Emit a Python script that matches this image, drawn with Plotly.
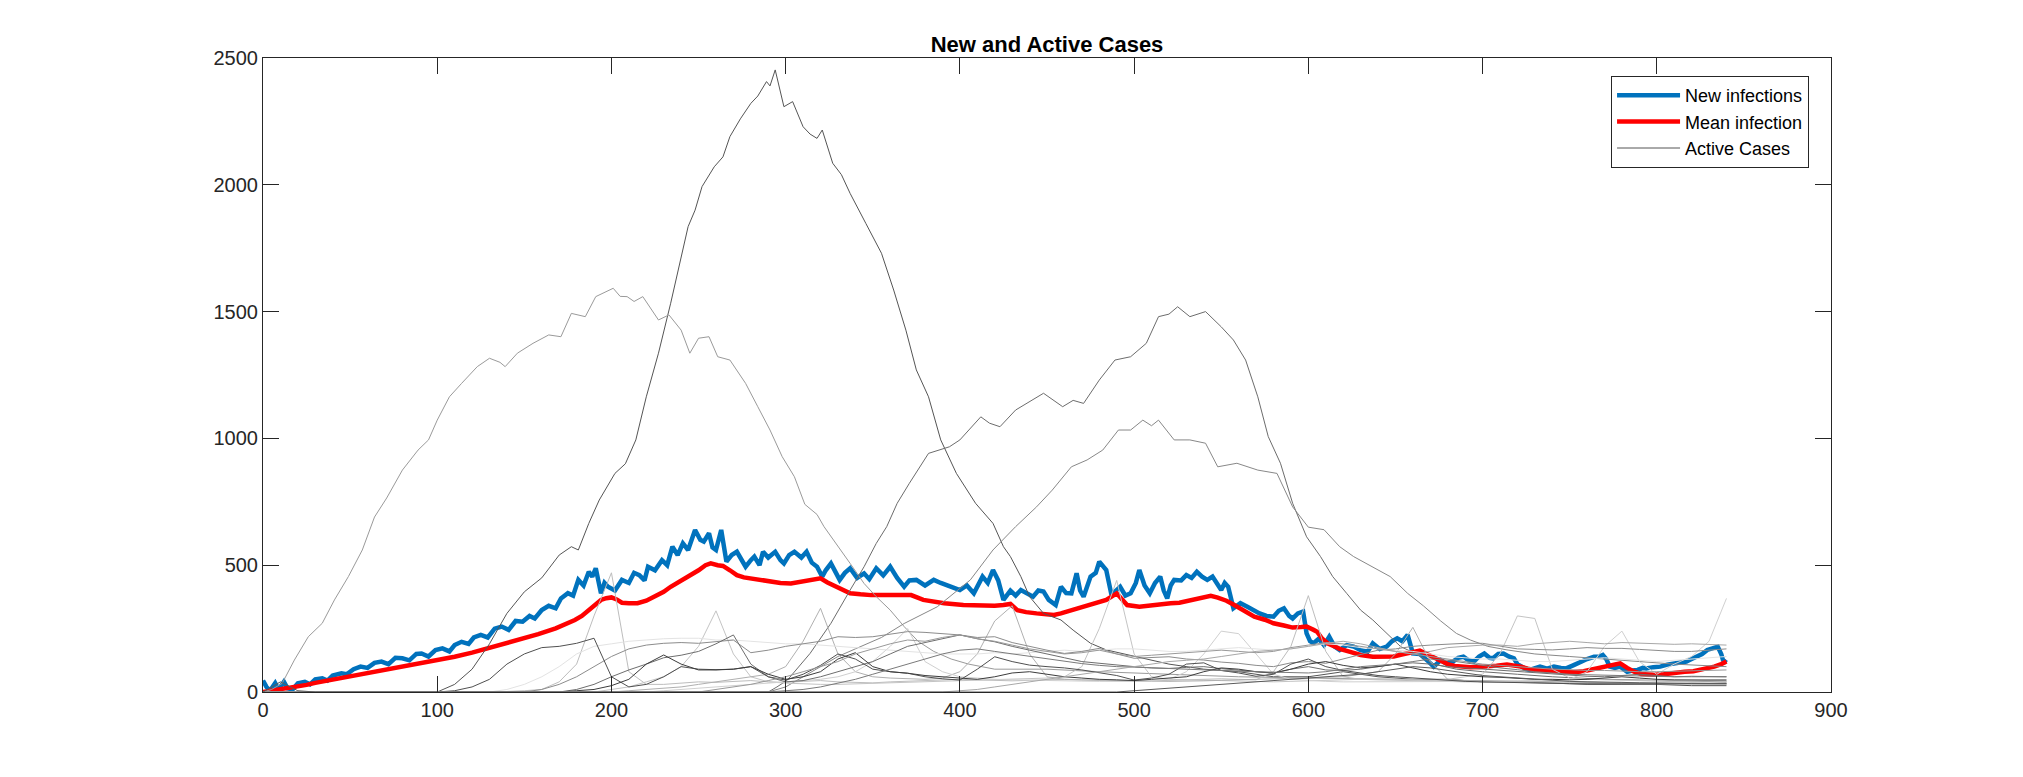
import plotly.graph_objects as go

# New infections (blue) - day / value pairs
NEW_DAY = [0, 2, 4, 7, 9, 12, 14, 17, 20, 24, 27, 30, 34, 37, 40, 45, 48, 52, 56, 60,
           64, 68, 72, 76, 80, 84, 88, 91, 95, 99, 103, 107, 110, 114, 118, 121, 125, 129, 133, 137,
           141, 145, 149, 153, 156, 160, 164, 168, 171, 175, 178, 181, 184, 187, 189, 191, 194, 196, 198, 202,
           206, 210, 213, 216, 219, 221, 225, 229, 232, 235, 238, 241, 244, 248, 251, 253, 256, 258, 260, 263,
           266, 269, 272, 275, 277, 280, 282, 285, 287, 290, 294, 297, 299, 302, 305, 309, 312, 315, 318, 321,
           323, 326, 329, 331, 334, 337, 341, 345, 348, 352, 356, 360, 364, 368, 371, 375, 380, 385, 389, 393,
           397, 400, 404, 408, 413, 416, 419, 422, 425, 429, 432, 435, 439, 442, 445, 448, 451, 455, 458, 461,
           464, 467, 469, 471, 475, 478, 480, 482, 484, 487, 490, 492, 495, 498, 501, 503, 506, 509, 512, 515,
           517, 519, 521, 523, 527, 530, 533, 536, 539, 542, 545, 548, 550, 552, 554, 557, 561, 565, 569, 572,
           576, 580, 583, 586, 589, 591, 594, 597, 599, 601, 603, 606, 609, 612, 615, 618, 622, 626, 630, 634,
           637, 641, 645, 648, 651, 654, 657, 660, 664, 666, 669, 672, 674, 676, 679, 683, 686, 689, 692, 695,
           698, 701, 704, 706, 709, 712, 715, 718, 720, 722, 725, 727, 730, 733, 737, 741, 745, 748, 752, 756,
           760, 764, 767, 769, 771, 773, 776, 779, 781, 783, 786, 789, 792, 794, 798, 802, 806, 810, 814, 817,
           820, 823, 826, 829, 832, 835, 837, 838, 840]
NEW_VAL = [45, 20, 5, 35, 10, 40, 15, 10, 34, 40, 30, 50, 54, 45, 65, 74, 70, 90, 100, 95,
           115, 120, 110, 135, 133, 125, 150, 152, 140, 165, 172, 160, 185, 198, 190, 215, 225, 215, 250, 258,
           245, 280, 277, 300, 290, 323, 340, 330, 369, 390, 380, 442, 420, 474, 455, 488, 389, 430, 415, 400,
           442, 430, 470, 461, 440, 494, 480, 520, 500, 573, 540, 586, 560, 639, 600, 593, 626, 570, 560, 639,
           514, 540, 553, 520, 494, 520, 534, 500, 553, 530, 553, 520, 507, 540, 553, 530, 553, 510, 494, 455,
           480, 507, 470, 442, 470, 488, 450, 468, 445, 488, 460, 494, 450, 415, 440, 442, 420, 442, 430, 422,
           410, 402, 420, 389, 455, 430, 481, 440, 363, 400, 380, 402, 385, 376, 400, 396, 363, 343, 415, 390,
           389, 468, 400, 376, 455, 470, 514, 495, 481, 383, 400, 415, 380, 389, 430, 481, 420, 389, 430, 455,
           400, 369, 420, 442, 440, 461, 450, 474, 455, 442, 455, 420, 402, 430, 415, 330, 350, 336, 320, 310,
           300, 297, 320, 330, 300, 290, 310, 317, 231, 200, 192, 210, 185, 218, 180, 166, 185, 179, 165, 159,
           192, 170, 179, 200, 212, 200, 225, 152, 150, 139, 120, 100, 115, 126, 113, 120, 135, 139, 125, 120,
           140, 152, 135, 133, 150, 152, 140, 133, 110, 100, 90, 87, 95, 100, 92, 100, 95, 93, 105, 120,
           130, 139, 140, 146, 130, 100, 95, 100, 90, 80, 85, 87, 95, 93, 98, 100, 108, 113, 115, 120,
           130, 139, 150, 166, 172, 179, 150, 126, 115]

# Mean infection (red)
MEAN_DAY = [0, 5, 10, 15, 20, 25, 30, 34, 40, 45, 53, 60, 66, 72, 80, 86, 91, 100, 110, 120,
            129, 138, 148, 158, 168, 174, 179, 183, 187, 191, 194, 197, 200, 203, 206, 210, 215, 220, 225, 230,
            234, 240, 245, 250, 254, 257, 261, 264, 268, 272, 276, 280, 286, 291, 297, 303, 308, 314, 320, 324,
            329, 333, 337, 343, 349, 360, 372, 379, 385, 391, 402, 414, 420, 425, 429, 433, 438, 444, 450, 454,
            458, 463, 469, 476, 484, 490, 494, 496, 503, 509, 515, 521, 526, 532, 538, 544, 548, 553, 557, 561,
            565, 569, 575, 580, 586, 591, 596, 599, 603, 605, 608, 611, 615, 618, 624, 630, 637, 643, 649, 653,
            657, 661, 664, 668, 672, 676, 680, 684, 687, 693, 698, 703, 708, 714, 718, 722, 726, 729, 735, 741,
            747, 752, 758, 764, 770, 775, 779, 783, 787, 791, 798, 804, 810, 816, 821, 827, 833, 837, 840]
MEAN_VAL = [0, 5, 10, 14, 20, 28, 36, 41, 50, 58, 67, 77, 85, 93, 102, 110, 116, 128, 139, 155,
            172, 190, 208, 228, 251, 268, 284, 300, 323, 345, 363, 370, 373, 365, 352, 350, 350, 360, 376, 395,
            415, 438, 461, 480, 500, 507, 500, 497, 480, 461, 452, 448, 440, 435, 430, 428, 435, 442, 448, 432,
            415, 400, 389, 385, 382, 382, 382, 363, 355, 350, 343, 339, 340, 343, 347, 323, 315, 310, 306, 304,
            310, 320, 330, 345, 363, 389, 360, 343, 336, 342, 347, 350, 352, 360, 369, 379, 372, 360, 345, 330,
            312, 297, 285, 271, 262, 254, 256, 258, 245, 238, 210, 192, 180, 170, 158, 146, 139, 139, 140, 147,
            154, 162, 163, 150, 135, 122, 110, 103, 100, 98, 99, 100, 104, 108, 106, 100, 92, 88, 86, 83,
            80, 78, 82, 92, 102, 110, 113, 95, 80, 71, 68, 70, 76, 80, 82, 90, 100, 110, 120]

# Active cases, the four large waves (irregular sampling)
WAVE_A_DAY = [0, 100, 110, 120, 130, 140, 150, 160, 170, 177, 181, 187, 193, 202, 208, 214, 220, 227, 234, 239,
              244, 248, 252, 259, 264, 268, 274, 280, 284, 289, 291, 294, 299, 304, 310, 314, 318, 321, 327, 332,
              337, 346, 355, 362, 369, 375, 382, 389, 398, 409, 419, 425, 429, 435, 440, 448, 458, 465, 475, 484,
              500, 520, 540, 560, 580, 600, 620, 640, 660, 680, 700, 720, 740, 760, 780, 800, 820, 840]
WAVE_A_VAL = [0, 0, 30, 90, 190, 310, 395, 450, 540, 573, 560, 665, 757, 862, 900, 994, 1164, 1336, 1533, 1690,
              1835, 1900, 1993, 2071, 2110, 2190, 2260, 2321, 2350, 2407, 2390, 2453, 2308, 2328, 2229, 2200, 2183, 2216, 2085, 2040,
              1966, 1848, 1730, 1585, 1427, 1270, 1164, 994, 862, 744, 665, 573, 534, 455, 376, 310, 284, 244, 192, 166,
              140, 110, 90, 80, 60, 60, 80, 60, 50, 50, 40, 40, 35, 30, 30, 30, 25, 25]

WAVE_B_DAY = [0, 5, 11, 18, 26, 34, 41, 49, 57, 64, 71, 80, 89, 95, 100, 107, 114, 123, 130, 136,
              139, 146, 155, 164, 171, 177, 185, 191, 201, 205, 209, 213, 218, 227, 233, 240, 245, 250, 256, 261,
              268, 277, 284, 291, 298, 305, 311, 318, 322, 329, 337, 345, 352, 360, 368, 376, 385, 395, 405, 420,
              450, 480, 520, 560, 600, 650, 700, 750, 800, 840]
WAVE_B_VAL = [0, 10, 34, 126, 218, 271, 363, 455, 560, 690, 765, 875, 954, 994, 1072, 1164, 1217, 1283, 1316, 1300,
              1283, 1336, 1375, 1408, 1401, 1493, 1480, 1559, 1592, 1560, 1559, 1540, 1559, 1467, 1487, 1427, 1336, 1395, 1401, 1322,
              1309, 1217, 1125, 1033, 928, 849, 740, 700, 652, 586, 507, 428, 376, 323, 258, 200, 160, 130, 110, 90,
              90, 80, 70, 60, 55, 50, 45, 40, 35, 30]

WAVE_C_DAY = [0, 290, 295, 301, 314, 326, 337, 345, 352, 358, 364, 371, 382, 394, 400, 412, 417, 423, 432, 441,
              448, 459, 465, 471, 480, 489, 498, 507, 514, 520, 525, 532, 541, 550, 557, 564, 571, 577, 584, 591,
              599, 607, 614, 622, 630, 637, 645, 653, 662, 672, 685, 700, 720, 740, 770, 800, 840]
WAVE_C_VAL = [0, 0, 20, 47, 152, 271, 402, 494, 586, 652, 744, 823, 941, 967, 994, 1085, 1060, 1046, 1112, 1151,
              1178, 1125, 1150, 1138, 1230, 1309, 1322, 1375, 1480, 1490, 1519, 1480, 1500, 1440, 1388, 1309, 1164, 1007, 902, 744,
              612, 534, 455, 389, 323, 284, 231, 179, 150, 110, 90, 80, 70, 60, 50, 45, 40]

WAVE_D_DAY = [0, 290, 300, 310, 320, 330, 340, 355, 368, 387, 406, 419, 432, 444, 453, 464, 473, 482, 491, 498,
              505, 510, 514, 523, 532, 541, 548, 559, 571, 582, 591, 600, 609, 618, 626, 637, 647, 657, 666, 676,
              685, 693, 703, 714, 730, 750, 770, 790, 810, 840]
WAVE_D_VAL = [0, 0, 20, 60, 100, 140, 170, 215, 270, 336, 442, 560, 652, 730, 796, 888, 915, 954, 1033, 1033,
              1072, 1050, 1072, 994, 994, 981, 888, 902, 875, 862, 730, 650, 640, 573, 534, 494, 455, 389, 340, 280,
              231, 205, 180, 166, 150, 140, 130, 120, 110, 100]

# Active cases, smaller regions on a 10-day grid (day 0 ... 840)
GRID_DAYS = list(range(0, 850, 10))

LOW_1 = [0, 0, 0, 0, 0, 0, 0, 0, 0, 0,
         0, 0, 0, 0, 2, 5, 10, 40, 110, 300,
         470, 80, 30, 30, 35, 40, 38, 42, 45, 40,
         38, 42, 45, 40, 38, 36, 40, 42, 45, 48,
         50, 48, 45, 44, 46, 48, 50, 47, 45, 44,
         42, 44, 46, 48, 50, 52, 50, 48, 80, 180,
         380, 160, 60, 50, 48, 46, 44, 42, 40, 40,
         40, 38, 40, 42, 44, 42, 40, 38, 36, 38,
         40, 42, 44, 46, 48]
LOW_2 = [0, 0, 0, 0, 0, 0, 0, 0, 0, 0,
         0, 0, 0, 0, 0, 0, 0, 0, 0, 0,
         10, 20, 40, 60, 100, 180, 320, 150, 60, 40,
         35, 32, 30, 30, 32, 34, 36, 38, 40, 42,
         44, 46, 48, 50, 52, 55, 60, 100, 250, 440,
         150, 60, 50, 48, 46, 44, 42, 40, 40, 42,
         44, 46, 48, 50, 52, 50, 48, 46, 50, 60,
         70, 150, 300, 290, 90, 55, 50, 48, 46, 46,
         45, 44, 43, 42, 42]
LOW_3 = [0, 0, 0, 0, 0, 0, 0, 0, 0, 0,
         0, 0, 0, 0, 0, 0, 0, 0, 0, 0,
         0, 5, 10, 15, 20, 30, 40, 50, 60, 70,
         100, 200, 330, 150, 80, 60, 55, 52, 50, 55,
         80, 150, 280, 340, 150, 60, 50, 48, 46, 45,
         44, 43, 42, 42, 44, 46, 48, 50, 52, 54,
         56, 58, 60, 70, 80, 150, 255, 120, 50, 45,
         42, 40, 38, 36, 35, 34, 34, 33, 33, 32,
         32, 31, 31, 30, 30]
LOW_4 = [0, 0, 0, 0, 0, 0, 0, 0, 0, 0,
         0, 0, 0, 0, 0, 0, 0, 0, 0, 0,
         0, 0, 0, 5, 10, 15, 20, 25, 30, 35,
         40, 45, 50, 60, 80, 120, 180, 250, 120, 80,
         60, 55, 50, 48, 46, 45, 44, 43, 42, 42,
         42, 45, 50, 80, 150, 240, 230, 150, 70, 50,
         45, 42, 40, 40, 40, 40, 40, 40, 40, 40,
         40, 42, 44, 46, 48, 50, 80, 180, 240, 120,
         70, 110, 140, 200, 369]
LOW_5 = [0, 0, 0, 0, 0, 0, 0, 0, 0, 0,
         0, 0, 0, 0, 10, 30, 60, 100, 150, 180,
         190, 200, 205, 210, 212, 212, 205, 205, 200, 195,
         190, 190, 185, 180, 175, 170, 165, 160, 155, 150,
         150, 150, 155, 150, 155, 160, 165, 160, 165, 170,
         170, 165, 160, 160, 165, 170, 175, 170, 165, 170,
         180, 190, 185, 175, 170, 165, 160, 150, 140, 135,
         130, 130, 125, 120, 120, 125, 130, 135, 130, 125,
         120, 125, 130, 135, 140]
LOW_6 = [0, 0, 0, 0, 0, 0, 0, 0, 0, 0,
         0, 0, 0, 0, 0, 0, 10, 30, 60, 100,
         140, 170, 185, 192, 195, 192, 198, 205, 155, 165,
         180, 190, 200, 218, 215, 218, 228, 238, 235, 231,
         225, 215, 218, 195, 179, 165, 152, 160, 172, 150,
         133, 135, 139, 130, 126, 118, 113, 105, 100, 115,
         120, 113, 130, 150, 165, 170, 180, 185, 190, 192,
         192, 180, 170, 168, 166, 170, 175, 172, 172, 168,
         165, 160, 160, 165, 170]
LOW_7 = [0, 0, 0, 0, 0, 0, 0, 0, 0, 0,
         0, 0, 0, 0, 0, 0, 0, 0, 10, 30,
         60, 87, 110, 135, 145, 160, 190, 225, 110, 60,
         40, 45, 60, 80, 100, 120, 150, 180, 195, 210,
         225, 210, 198, 180, 166, 150, 135, 120, 113, 105,
         100, 95, 93, 97, 100, 92, 87, 80, 74, 90,
         100, 87, 85, 90, 100, 110, 115, 110, 100, 95,
         90, 85, 80, 75, 70, 65, 62, 60, 65, 70,
         65, 60, 62, 60, 60]
LOW_8 = [0, 0, 0, 0, 0, 0, 0, 0, 0, 0,
         0, 5, 20, 50, 110, 150, 175, 180, 192, 212,
         60, 20, 30, 60, 100, 90, 88, 90, 100, 60,
         47, 70, 105, 150, 130, 90, 80, 74, 60, 52,
         47, 90, 139, 120, 106, 100, 95, 87, 75, 65,
         47, 55, 70, 110, 115, 85, 75, 62, 70, 110,
         130, 100, 85, 75, 65, 60, 55, 50, 45, 42,
         40, 38, 36, 35, 35, 33, 32, 32, 30, 30,
         30, 32, 34, 34, 34]
LOW_9 = [0, 0, 0, 0, 0, 0, 0, 0, 0, 0,
         0, 0, 0, 0, 0, 0, 0, 0, 5, 10,
         25, 50, 110, 146, 110, 87, 87, 90, 100, 70,
         50, 60, 80, 130, 155, 100, 80, 74, 65, 60,
         55, 50, 60, 75, 80, 70, 60, 55, 50, 48,
         45, 50, 55, 60, 80, 95, 90, 80, 75, 90,
         110, 120, 105, 95, 100, 110, 95, 80, 70, 65,
         60, 58, 55, 50, 50, 48, 50, 55, 60, 55,
         50, 48, 47, 47, 47]
LOW_10 = [0, 0, 0, 0, 0, 0, 0, 0, 0, 0,
          0, 0, 0, 0, 0, 0, 0, 0, 0, 0,
          0, 0, 0, 0, 0, 0, 10, 20, 30, 45,
          60, 80, 100, 120, 150, 170, 190, 205, 200, 215,
          225, 210, 200, 185, 170, 160, 150, 155, 165, 150,
          140, 145, 150, 155, 160, 165, 160, 155, 160, 175,
          185, 195, 190, 180, 170, 160, 150, 140, 130, 120,
          110, 105, 100, 95, 90, 88, 85, 85, 82, 80,
          80, 82, 84, 86, 87]
LOW_11 = [0, 0, 0, 0, 0, 0, 0, 0, 0, 0,
          0, 0, 0, 0, 0, 0, 0, 0, 0, 0,
          0, 0, 0, 0, 0, 0, 0, 0, 0, 0,
          5, 10, 20, 35, 50, 70, 90, 110, 130, 150,
          165, 170, 160, 150, 140, 130, 120, 112, 105, 100,
          98, 95, 92, 90, 88, 85, 82, 80, 78, 76,
          75, 80, 90, 100, 105, 110, 120, 130, 125, 115,
          105, 95, 88, 80, 75, 70, 68, 66, 66, 64,
          62, 60, 60, 60, 60]
LOW_12 = [0, 0, 0, 0, 0, 0, 0, 0, 0, 0,
          0, 0, 0, 0, 0, 0, 0, 0, 0, 0,
          0, 0, 0, 0, 0, 0, 0, 0, 0, 0,
          0, 0, 0, 0, 0, 0, 0, 0, 0, 0,
          5, 10, 20, 30, 40, 50, 60, 70, 80, 90,
          100, 110, 120, 125, 130, 140, 150, 160, 165, 170,
          180, 192, 200, 190, 175, 160, 150, 160, 175, 180,
          185, 185, 180, 190, 195, 200, 195, 190, 195, 192,
          190, 188, 190, 188, 185]
LOW_13 = [0, 40, 5, 0, 0, 0, 0, 0, 0, 0,
          0, 0, 0, 0, 0, 0, 0, 0, 0, 0,
          0, 0, 0, 0, 0, 0, 0, 0, 0, 0,
          0, 0, 0, 0, 0, 0, 0, 0, 0, 0,
          0, 0, 0, 0, 0, 0, 0, 0, 0, 0,
          5, 10, 15, 20, 25, 30, 35, 40, 45, 50,
          55, 60, 65, 70, 80, 90, 100, 95, 85, 75,
          65, 60, 55, 50, 45, 42, 40, 40, 38, 36,
          35, 34, 34, 34, 34]

X_TICKS = [0, 100, 200, 300, 400, 500, 600, 700, 800, 900]
Y_TICKS = [0, 500, 1000, 1500, 2000, 2500]

FONT = 'Liberation Sans, Arial, Helvetica, sans-serif'
AXIS_COLOR = '#262626'


def build_figure():
    fig = go.Figure()

    fig.add_trace(go.Scatter(x=NEW_DAY, y=NEW_VAL, mode='lines', name='New infections',
                             line=dict(color='#0072BD', width=4.5)))
    fig.add_trace(go.Scatter(x=MEAN_DAY, y=MEAN_VAL, mode='lines', name='Mean infection',
                             line=dict(color='#FF0000', width=4.5)))

    # active cases drawn on top, only the first one goes into the legend
    waves = [
        (WAVE_A_DAY, WAVE_A_VAL, '#555555'),
        (WAVE_B_DAY, WAVE_B_VAL, '#9a9a9a'),
        (WAVE_C_DAY, WAVE_C_VAL, '#6c6c6c'),
        (WAVE_D_DAY, WAVE_D_VAL, '#888888'),
        (GRID_DAYS, LOW_1, '#bdbdbd'),
        (GRID_DAYS, LOW_2, '#c4c4c4'),
        (GRID_DAYS, LOW_3, '#b0b0b0'),
        (GRID_DAYS, LOW_4, '#d0d0d0'),
        (GRID_DAYS, LOW_5, '#e3e3e3'),
        (GRID_DAYS, LOW_6, '#8c8c8c'),
        (GRID_DAYS, LOW_7, '#6e6e6e'),
        (GRID_DAYS, LOW_8, '#505050'),
        (GRID_DAYS, LOW_9, '#3c3c3c'),
        (GRID_DAYS, LOW_10, '#999999'),
        (GRID_DAYS, LOW_11, '#7a7a7a'),
        (GRID_DAYS, LOW_12, '#a8a8a8'),
        (GRID_DAYS, LOW_13, '#5a5a5a'),
    ]
    for i, (days, vals, color) in enumerate(waves):
        fig.add_trace(go.Scatter(x=days, y=vals, mode='lines', name='Active Cases',
                                 legendgroup='active', showlegend=(i == 0),
                                 line=dict(color=color, width=1)))

    axis_style = dict(showline=True, mirror='ticks', linecolor=AXIS_COLOR, linewidth=1,
                      ticks='inside', ticklen=16, tickwidth=1, tickcolor=AXIS_COLOR,
                      showgrid=False, zeroline=False,
                      tickfont=dict(family=FONT, size=20, color=AXIS_COLOR))

    fig.update_xaxes(range=[0, 900], tickvals=X_TICKS, **axis_style)
    fig.update_yaxes(range=[0, 2500], tickvals=Y_TICKS, **axis_style)

    fig.update_layout(
        width=2023, height=777, autosize=False,
        margin=dict(l=263, r=192, t=58, b=85),
        plot_bgcolor='white', paper_bgcolor='white',
        font=dict(family=FONT, size=20, color=AXIS_COLOR),
        title=dict(text='<b>New and Active Cases</b>', x=0.5, xref='paper', xanchor='center',
                   y=1, yref='paper', yanchor='bottom', pad=dict(b=6),
                   font=dict(family=FONT, size=22, color='black')),
        legend=dict(x=0.986, xanchor='right', y=0.9716, yanchor='top',
                    bgcolor='white', bordercolor=AXIS_COLOR, borderwidth=1,
                    font=dict(family=FONT, size=18, color='black'),
                    tracegroupgap=0, itemwidth=63),
    )
    return fig


def main():
    fig = build_figure()
    # drop the default page margin so the figure sits at the window origin
    fig.write_html("out.html", config={'displayModeBar': False},
                   post_script="document.body.style.margin = '0';")


if __name__ == "__main__":
    main()
